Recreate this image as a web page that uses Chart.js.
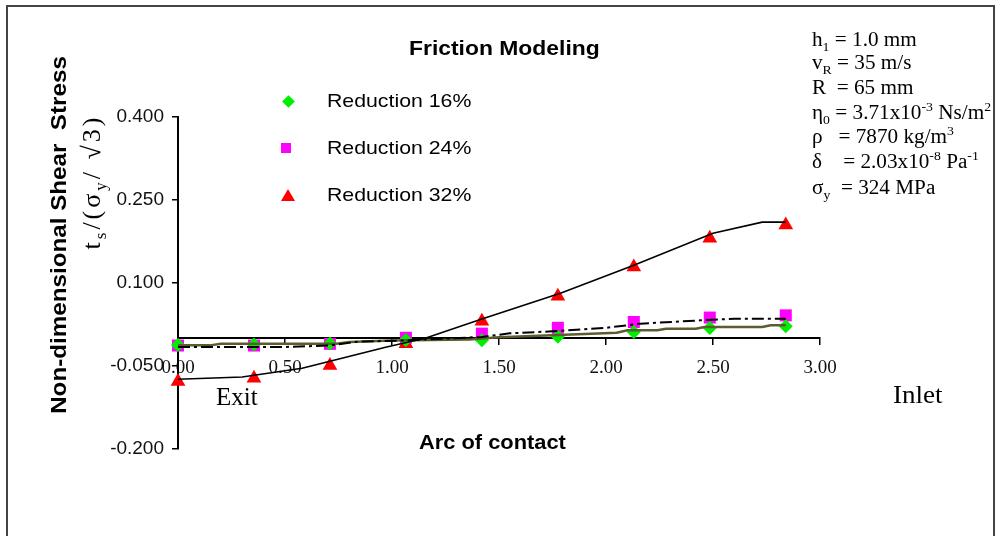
<!DOCTYPE html>
<html>
<head>
<meta charset="utf-8">
<script src="https://cdn.jsdelivr.net/npm/chart.js@4.4.1/dist/chart.umd.min.js"></script>
<style>
  body { margin: 0; background: #fff; }
  #wrap { position: relative; width: 1000px; height: 536px; overflow: hidden; background: #fff; }
  #frame { position: absolute; left: 6px; top: 5px; width: 989px; height: 600px; border: 2px solid #444; box-sizing: border-box; }
  canvas { position: absolute; left: 0; top: 0; }
  .t { position: absolute; white-space: nowrap; color: #000; line-height: 24px; height: 24px; }
  .sans { font-family: "Liberation Sans", Arial, sans-serif; }
  .serif { font-family: "Liberation Serif", "Times New Roman", serif; }
  .t sub, .t sup { font-size: 0.65em; line-height: 0; }
  .par { left: 812px; font-size: 20px; transform: scaleX(1.06); transform-origin: left; }
  .mk { position: absolute; }
</style>
</head>
<body>
<div id="wrap">
  <div id="frame"></div>
  <canvas id="chart" width="1000" height="536"></canvas>

  <div class="t sans" style="left:409px;top:36px;font-size:21px;font-weight:bold;transform:scaleX(1.09);transform-origin:left;">Friction Modeling</div>

  <!-- legend -->
  <div class="mk" style="left:284px;top:97px;width:9px;height:9px;background:#00ee00;transform:rotate(45deg);"></div>
  <div class="mk" style="left:281px;top:143px;width:10px;height:10px;background:#ff00ff;"></div>
  <div class="mk" style="left:281px;top:189px;width:0;height:0;border-left:7px solid transparent;border-right:7px solid transparent;border-bottom:12px solid #ff0000;"></div>
  <div class="t sans" style="left:327px;top:89px;font-size:19px;transform:scaleX(1.12);transform-origin:left;">Reduction 16%</div>
  <div class="t sans" style="left:327px;top:136px;font-size:19px;transform:scaleX(1.12);transform-origin:left;">Reduction 24%</div>
  <div class="t sans" style="left:327px;top:183px;font-size:19px;transform:scaleX(1.12);transform-origin:left;">Reduction 32%</div>

  <!-- parameters -->
  <div class="t serif par" style="top:27px;">h<sub>1</sub> = 1.0 mm</div>
  <div class="t serif par" style="top:50px;">v<sub>R</sub> = 35 m/s</div>
  <div class="t serif par" style="top:75px;">R&nbsp; = 65 mm</div>
  <div class="t serif par" style="top:100px;">η<sub>0</sub> = 3.71x10<sup>-3</sup> Ns/m<sup>2</sup></div>
  <div class="t serif par" style="top:124px;">ρ&nbsp;&nbsp; = 7870 kg/m<sup>3</sup></div>
  <div class="t serif par" style="top:149px;">δ&nbsp;&nbsp;&nbsp; = 2.03x10<sup>-8</sup> Pa<sup>-1</sup></div>
  <div class="t serif par" style="top:175px;">σ<sub>y</sub>&nbsp; = 324 MPa</div>

  <!-- axis titles -->
  <div class="t sans" style="left:59px;top:235px;font-size:22px;font-weight:bold;transform:translate(-50%,-50%) rotate(-90deg) scaleX(1.1);">Non-dimensional Shear&nbsp; Stress</div>
  <div class="t serif" style="left:92px;top:182px;font-size:26px;letter-spacing:3px;transform:translate(-50%,-50%) rotate(-90deg);">t<sub>s</sub>/(σ<sub>y</sub>/ √3)</div>
  <div class="t sans" style="left:419px;top:430px;font-size:21px;font-weight:bold;transform:scaleX(1.04);transform-origin:left;">Arc of contact</div>
  <div class="t serif" style="left:216px;top:385px;font-size:25px;">Exit</div>
  <div class="t serif" style="left:893px;top:383px;font-size:25px;transform:scaleX(1.08);transform-origin:left;">Inlet</div>
</div>

<script>
// measured points along the arc of contact
const arcPoints = [0, 0.355, 0.71, 1.065, 1.42, 1.775, 2.13, 2.485, 2.84];
const shear16 = [-0.012, -0.011, -0.0095, -0.003, -0.0035, 0.003, 0.0115, 0.0185, 0.022];
const shear24 = [-0.013, -0.013, -0.010, 0.001, 0.0085, 0.019, 0.0295, 0.0375, 0.0415];
const shear32 = [-0.078, -0.072, -0.049, -0.010, 0.031, 0.076, 0.129, 0.181, 0.205];

// model curves
const fit16X = [0, 0.15, 0.2, 0.74, 0.8, 1.0, 1.36, 1.5, 1.9, 2.05, 2.1, 2.24, 2.28, 2.42, 2.46, 2.73, 2.77, 2.84];
const fit16Y = [-0.0127, -0.0127, -0.0096, -0.0096, -0.0067, -0.004, -0.002, 0.002, 0.008, 0.010, 0.0145, 0.0145, 0.0175, 0.0175, 0.0205, 0.0205, 0.0235, 0.0235];
const fit24X = [0, 0.49, 0.71, 0.84, 1.05, 1.42, 1.55, 1.75, 2.0, 2.16, 2.44, 2.6, 2.84];
const fit24Y = [-0.0157, -0.0157, -0.013, -0.006, -0.004, 0.0025, 0.009, 0.0127, 0.019, 0.0265, 0.0325, 0.0355, 0.0355];
const fit32X = [0, 0.3, 0.58, 0.97, 1.155, 1.42, 1.79, 2.13, 2.5, 2.73, 2.84];
const fit32Y = [-0.074, -0.07, -0.054, -0.016, 0, 0.035, 0.082, 0.132, 0.19, 0.21, 0.21];

const xTicks = [0, 0.5, 1, 1.5, 2, 2.5, 3];
const yTicks = [-0.2, -0.05, 0.1, 0.25, 0.4];

const pts = (xs, ys) => xs.map((x, i) => ({ x: x, y: ys[i] }));

const lineBase = { showLine: true, pointRadius: 0, fill: false, tension: 0, clip: false, order: 0 };
const markBase = { showLine: false, borderWidth: 0, clip: false, order: 1 };

new Chart(document.getElementById('chart').getContext('2d'), {
  type: 'scatter',
  data: {
    datasets: [
      Object.assign({ label: 'fit 32%', data: pts(fit32X, fit32Y), borderColor: '#000', borderWidth: 1.6 }, lineBase),
      Object.assign({ label: 'fit 24%', data: pts(fit24X, fit24Y), borderColor: '#000', borderWidth: 2, borderDash: [12, 4, 3, 4] }, lineBase),
      Object.assign({ label: 'fit 16%', data: pts(fit16X, fit16Y), borderColor: '#5c5c2e', borderWidth: 2.5 }, lineBase),
      Object.assign({ label: 'Reduction 16%', data: pts(arcPoints, shear16), pointStyle: 'rectRot', pointRadius: 7, backgroundColor: '#00ee00' }, markBase),
      Object.assign({ label: 'Reduction 24%', data: pts(arcPoints, shear24), pointStyle: 'rect', pointRadius: 8.5, backgroundColor: '#ff00ff' }, markBase),
      Object.assign({ label: 'Reduction 32%', data: pts(arcPoints, shear32), pointStyle: 'triangle', pointRadius: 8.5, backgroundColor: '#ff0000' }, markBase)
    ]
  },
  options: {
    responsive: false,
    animation: false,
    devicePixelRatio: 1,
    layout: { padding: { top: 117, right: 180, bottom: 87, left: 0 } },
    plugins: { legend: { display: false }, tooltip: { enabled: false }, title: { display: false } },
    scales: {
      x: {
        type: 'linear',
        position: { y: 0 },
        min: 0, max: 3,
        afterBuildTicks: s => { s.ticks = xTicks.map(v => ({ value: v })); },
        ticks: { callback: v => Number(v).toFixed(2), color: '#111', padding: 12, maxRotation: 0,
                 font: { family: '"Liberation Serif", "Times New Roman", serif', size: 19 } },
        grid: { drawOnChartArea: false, drawTicks: true, tickLength: 6, color: '#000', lineWidth: 1.5 },
        border: { display: true, color: '#000', width: 2 }
      },
      y: {
        type: 'linear',
        position: 'left',
        min: -0.2, max: 0.4,
        afterBuildTicks: s => { s.ticks = yTicks.map(v => ({ value: v })); },
        afterFit: s => { s.width = 178; },
        ticks: { callback: v => Number(v).toFixed(3), color: '#111', padding: 8,
                 font: { family: '"Liberation Sans", Arial, sans-serif', size: 19 } },
        grid: { drawOnChartArea: false, drawTicks: true, tickLength: 6, color: '#000', lineWidth: 1.5 },
        border: { display: true, color: '#000', width: 2 }
      }
    }
  }
});
</script>
</body>
</html>
